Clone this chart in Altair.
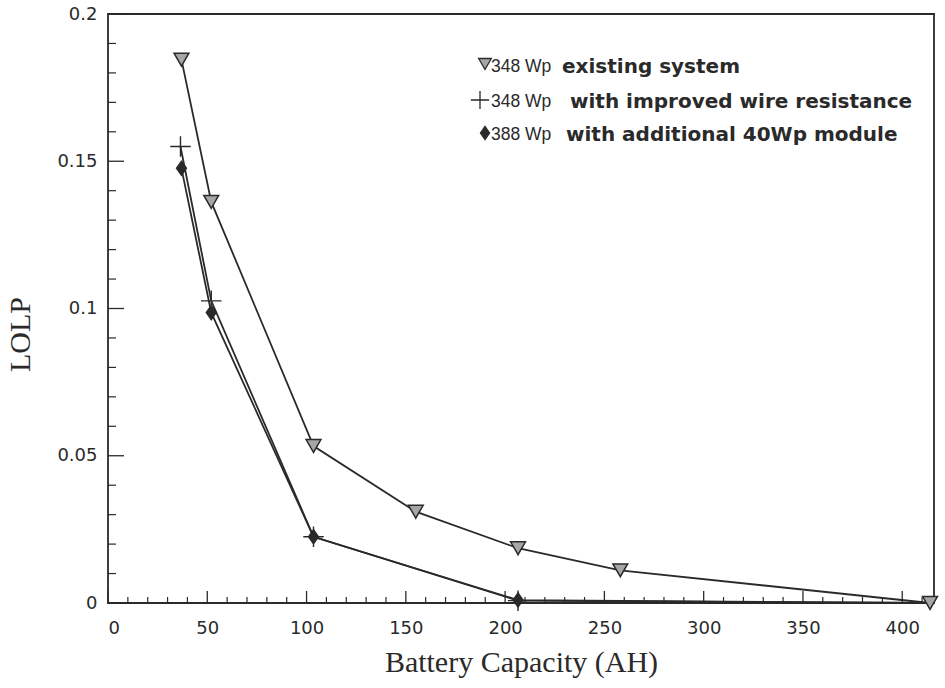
import altair as alt
import pandas as pd

# Battery capacity (AH) and loss-of-load probability for each PV array configuration
capacity_existing = [37, 52, 103.5, 155, 206.5, 258, 414]
lolp_existing = [0.1845, 0.1362, 0.0533, 0.031, 0.0186, 0.0111, 0.0]

capacity_wire = [36.5, 52, 103.5, 206.5, 414]
lolp_wire = [0.155, 0.1026, 0.0225, 0.0008, 0.0]

capacity_module = [37, 52, 103.5, 206.5, 414]
lolp_module = [0.1476, 0.0986, 0.0225, 0.001, 0.0]

legend_power = ["348 Wp", "348 Wp", "388 Wp"]
legend_desc = ["existing system", "with improved wire resistance", "with additional 40Wp module"]

x_major = [0, 50, 100, 150, 200, 250, 300, 350, 400]
x_minor = [v for v in range(10, 416, 10) if v % 50 != 0]
y_major = [0, 0.05, 0.1, 0.15, 0.2]
y_minor = [round(v * 0.01, 2) for v in range(1, 20) if v % 5 != 0]

W, H = 826, 589
INK = "#2a2a2a"

df_existing = pd.DataFrame({"cap": capacity_existing, "lolp": lolp_existing})
df_wire = pd.DataFrame({"cap": capacity_wire, "lolp": lolp_wire})
df_module = pd.DataFrame({"cap": capacity_module, "lolp": lolp_module})

xs = alt.Scale(domain=[0, 416], nice=False, zero=False)
ys = alt.Scale(domain=[0, 0.2], nice=False)

X = alt.X(
    "cap:Q", scale=xs,
    axis=alt.Axis(
        values=x_major, format="d", title="Battery Capacity (AH)",
        domain=False, ticks=False, grid=False,
        labelFont="DejaVu Sans", labelFontSize=18, labelColor=INK, labelPadding=16,
        titleFont="Liberation Serif", titleFontSize=30, titleFontWeight="normal",
        titleColor=INK, titleX=413, titleY=59, titleBaseline="middle", titleAlign="center",
    ),
)
Y = alt.Y(
    "lolp:Q", scale=ys,
    axis=alt.Axis(
        values=y_major, format="~g", title="LOLP",
        domain=False, ticks=False, grid=False,
        labelFont="DejaVu Sans", labelFontSize=18, labelColor=INK, labelPadding=11,
        titleFont="Liberation Serif", titleFontSize=30, titleFontWeight="normal",
        titleColor=INK, titleX=-88, titleY=320, titleAngle=270,
        titleBaseline="middle", titleAlign="center",
    ),
)

diamond = "M0,-1L0.7,0L0,1L-0.7,0Z"
plus = "M-1,0L1,0M0,-1L0,1"


def series(df, shape, size, fill, filled):
    line = alt.Chart(df).mark_line(color=INK, strokeWidth=1.8).encode(x=X, y=Y)
    pts = (
        alt.Chart(df)
        .transform_filter("datum.cap < 400")
        .mark_point(shape=shape, size=size, filled=filled, fill=fill,
                    stroke=INK, strokeWidth=1.4, opacity=1)
        .encode(x=X, y=Y)
    )
    return line, pts


l1, p1 = series(df_wire, plus, 420, None, False)
l2, p2 = series(df_module, diamond, 200, INK, True)
l3 = alt.Chart(df_existing).mark_line(color=INK, strokeWidth=1.8).encode(x=X, y=Y)
p3 = alt.Chart(df_existing).mark_point(
    shape="triangle-down", size=220, filled=True, fill="#a6a6a6",
    stroke=INK, strokeWidth=1.5, opacity=1,
).encode(x=X, y=Y)

# inward axis ticks
tx_major = alt.Chart(pd.DataFrame({"cap": x_major})).mark_rule(color=INK, strokeWidth=1.3).encode(
    x=alt.X("cap:Q", scale=xs), y=alt.value(H), y2=alt.value(H - 12))
tx_minor = alt.Chart(pd.DataFrame({"cap": x_minor})).mark_rule(color=INK, strokeWidth=1.2).encode(
    x=alt.X("cap:Q", scale=xs), y=alt.value(H), y2=alt.value(H - 6))
ty_major = alt.Chart(pd.DataFrame({"lolp": y_major})).mark_rule(color=INK, strokeWidth=1.3).encode(
    y=alt.Y("lolp:Q", scale=ys), x=alt.value(0), x2=alt.value(16))
ty_minor = alt.Chart(pd.DataFrame({"lolp": y_minor})).mark_rule(color=INK, strokeWidth=1.2).encode(
    y=alt.Y("lolp:Q", scale=ys), x=alt.value(0), x2=alt.value(8))

# key in the upper right of the plot
one = pd.DataFrame({"k": [0]})
key_symbols = [
    ("triangle-down", 160, "#a6a6a6", 377, 50),
    (plus, 330, None, 372, 86),
    (diamond, 170, INK, 377, 119),
]
key_text_y = [53, 88, 121]
key_desc_x = [454, 462, 458]
key_layers = []
for i, (shape, size, fill, sx, sy) in enumerate(key_symbols):
    key_layers.append(
        alt.Chart(one).mark_point(shape=shape, size=size, filled=fill is not None,
                                  fill=fill, stroke=INK, strokeWidth=1.3, opacity=1)
        .encode(x=alt.value(sx), y=alt.value(sy))
    )
    key_layers.append(
        alt.Chart(one).mark_text(font="Liberation Sans", fontSize=17.5, color=INK,
                                 align="left", baseline="middle")
        .encode(x=alt.value(383), y=alt.value(key_text_y[i]), text=alt.value(legend_power[i]))
    )
    key_layers.append(
        alt.Chart(one).mark_text(font="DejaVu Sans", fontSize=20, fontWeight="bold",
                                 color=INK, align="left", baseline="middle")
        .encode(x=alt.value(key_desc_x[i]), y=alt.value(key_text_y[i]), text=alt.value(legend_desc[i]))
    )

chart = (
    alt.layer(tx_major, tx_minor, ty_major, ty_minor, l3, l1, l2, p1, p2, p3, *key_layers)
    .properties(
        width=W, height=H,
        autosize=alt.AutoSizeParams(type="none"),
        padding={"left": 108, "top": 14, "right": 11, "bottom": 85},
        background="white",
    )
    .configure_view(stroke=INK, strokeWidth=1.8)
)

chart.save("out.html", embed_options={"renderer": "svg", "actions": False})
